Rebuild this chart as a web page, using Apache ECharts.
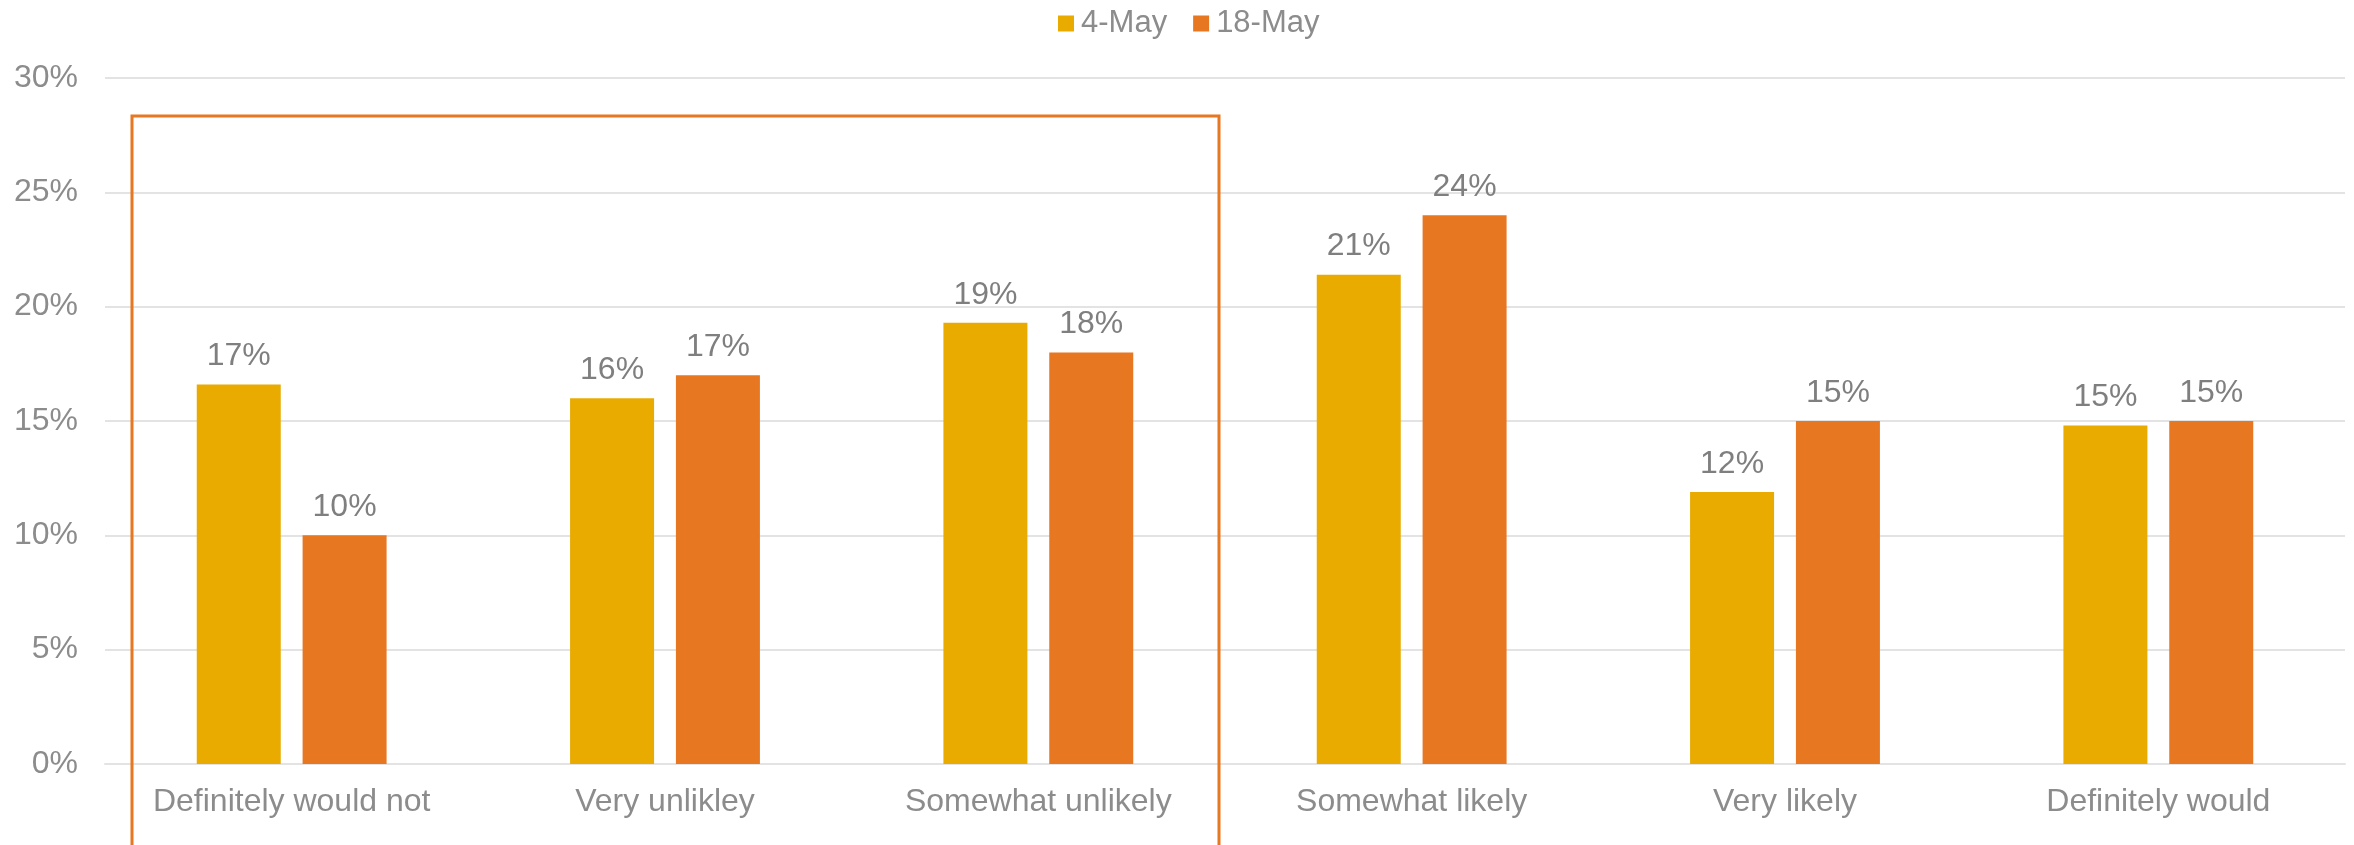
<!DOCTYPE html>
<html>
<head>
<meta charset="utf-8">
<title>Likelihood survey: 4-May vs 18-May</title>
<script src="https://cdn.jsdelivr.net/npm/echarts@6/dist/echarts.min.js"></script>
<style>
  html, body { margin: 0; padding: 0; background: #ffffff; }
  #chart { width: 2354px; height: 845px; }
</style>
</head>
<body>
<div id="chart"></div>
<script>
// Response categories along the x axis
const categories = [
  'Definitely would not',
  'Very unlikley',
  'Somewhat unlikely',
  'Somewhat likely',
  'Very likely',
  'Definitely would'
];

// Share of respondents (%) per survey wave
const seriesNames = ['4-May', '18-May'];
const may4 = [16.6, 16.0, 19.3, 21.4, 11.9, 14.8];
const may18 = [10.0, 17.0, 18.0, 24.0, 15.0, 15.0];

// Value axis ticks (%)
const yTicks = [0, 5, 10, 15, 20, 25, 30];

const FONT = '"Liberation Sans", Arial, sans-serif';
const AXIS_GREY = '#8C8C8C';
const LABEL_GREY = '#7F7F7F';
const GOLD = '#E9AB00';
const ORANGE = '#E87722';

const chart = echarts.init(document.getElementById('chart'), null, { renderer: 'canvas' });

const barLabel = {
  show: true,
  position: 'top',
  distance: 12,
  color: LABEL_GREY,
  fontFamily: FONT,
  fontSize: 32,
  formatter: p => Math.round(p.value) + '%'
};

chart.setOption({
  animation: false,
  textStyle: { fontFamily: FONT },
  legend: {
    data: seriesNames,
    top: 3,
    left: 1053,
    itemWidth: 16,
    itemHeight: 16,
    itemGap: 26,
    icon: 'rect',
    textStyle: { color: AXIS_GREY, fontSize: 31, fontFamily: FONT, padding: [0, 0, 0, 2] }
  },
  grid: { left: 105, right: 9, top: 78, bottom: 81, containLabel: false },
  xAxis: {
    type: 'category',
    data: categories,
    axisTick: { show: false },
    axisLine: { show: true, lineStyle: { color: '#E3E3E3', width: 2 } },
    axisLabel: { color: AXIS_GREY, fontSize: 32, fontFamily: FONT, margin: 22, interval: 0 }
  },
  yAxis: {
    type: 'value',
    min: yTicks[0],
    max: yTicks[yTicks.length - 1],
    interval: yTicks[1] - yTicks[0],
    axisLine: { show: false },
    axisTick: { show: false },
    axisLabel: { color: AXIS_GREY, fontSize: 32, fontFamily: FONT, margin: 27, formatter: v => v + '%' },
    splitLine: { show: true, lineStyle: { color: '#E3E3E3', width: 2 } }
  },
  series: [
    {
      name: seriesNames[0],
      type: 'bar',
      data: may4,
      barWidth: 84,
      barGap: '26%',
      itemStyle: { color: GOLD },
      label: barLabel
    },
    {
      name: seriesNames[1],
      type: 'bar',
      data: may18,
      barWidth: 84,
      itemStyle: { color: ORANGE },
      label: barLabel
    }
  ],
  // Outline grouping the three "unlikely" responses
  graphic: [
    {
      type: 'rect',
      shape: { x: 132, y: 116, width: 1087, height: 760 },
      style: { fill: 'none', stroke: ORANGE, lineWidth: 3 },
      z: 100
    }
  ]
});
</script>
</body>
</html>
